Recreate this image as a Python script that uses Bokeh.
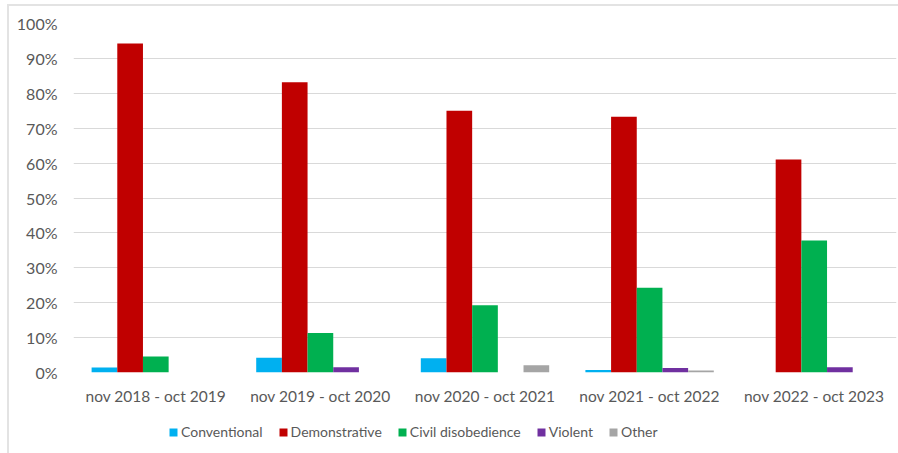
from bokeh.plotting import figure
from bokeh.layouts import column
from bokeh.models import (ColumnDataSource, FactorRange, Legend, LegendItem, FixedTicker,
                          PrintfTickFormatter, Range1d)
from bokeh.transform import dodge
from bokeh.embed import file_html
from bokeh.resources import INLINE

periods = ["nov 2018 - oct 2019", "nov 2019 - oct 2020", "nov 2020 - oct 2021",
           "nov 2021 - oct 2022", "nov 2022 - oct 2023"]
conventional = [1.4, 4.2, 4.1, 0.7, 0.0]
demonstrative = [94.3, 83.2, 75.0, 73.3, 61.0]
civil_disobedience = [4.6, 11.3, 19.3, 24.3, 37.8]
violent = [0.0, 1.5, 0.0, 1.3, 1.5]
other = [0.0, 0.0, 2.1, 0.6, 0.0]
series_names = ["Conventional", "Demonstrative", "Civil disobedience", "Violent", "Other"]
y_ticks = [0, 10, 20, 30, 40, 50, 60, 70, 80, 90, 100]

colors = ["#00B0F0", "#C00000", "#00B050", "#7030A0", "#A5A5A5"]
FONT = "Lato"
TXT = "#595959"

src = ColumnDataSource(dict(period=periods, c0=conventional, c1=demonstrative,
                            c2=civil_disobedience, c3=violent, c4=other))

W = 889
H1, H2 = 409, 38
xr = FactorRange(*periods)
p = figure(x_range=xr, y_range=(0, 100), width=W, height=H1,
           output_backend="svg", toolbar_location=None,
           min_border_left=64, min_border_right=2, min_border_top=17, min_border_bottom=43)
p.outline_line_color = None
p.background_fill_color = "white"

bw = 0.156
for i, name in enumerate(series_names):
    p.vbar(x=dodge("period", (i - 2) * bw, range=xr), top="c%d" % i, width=bw,
           source=src, fill_color=colors[i], line_color=None)

p.xgrid.grid_line_color = None
p.ygrid.grid_line_color = "#d9d9d9"
p.ygrid.ticker = FixedTicker(ticks=y_ticks)

p.yaxis.ticker = FixedTicker(ticks=y_ticks)
p.yaxis.formatter = PrintfTickFormatter(format="%d%%")
for ax in (p.xaxis, p.yaxis):
    ax.axis_line_color = None
    ax.major_tick_line_color = None
    ax.minor_tick_line_color = None
    ax.major_tick_out = 0
    ax.major_tick_in = 0
    ax.major_label_text_font = FONT
    ax.major_label_text_font_size = "15.5px"
    ax.major_label_text_color = TXT
p.yaxis.major_label_text_font_size = "16px"
p.yaxis.major_label_standoff = 16
p.xaxis.major_label_standoff = 14

# legend strip below the chart (its bar renderers sit outside its visible y-range)
lg = figure(width=W, height=H2, x_range=xr, y_range=Range1d(1000, 1001),
            output_backend="svg", toolbar_location=None,
            x_axis_location=None, y_axis_location=None,
            min_border_left=0, min_border_right=0, min_border_top=0, min_border_bottom=0)
lg.grid.visible = False
lg.outline_line_color = None
items = []
for i, name in enumerate(series_names):
    r = lg.vbar(x=dodge("period", (i - 2) * bw, range=xr), top="c%d" % i, width=bw,
                source=src, fill_color=colors[i], line_color=None)
    items.append(LegendItem(label=name, renderers=[r]))
legend = Legend(items=items, orientation="horizontal", location=(95, 13),
                glyph_width=10, glyph_height=10, label_standoff=3, spacing=15,
                padding=0, margin=0, border_line_color=None, background_fill_alpha=0,
                label_text_font=FONT, label_text_font_size="14px", label_text_color=TXT)
lg.add_layout(legend, "center")

layout = column(p, lg, spacing=0)
layout.margin = (4, 0, 0, 7)
layout.styles = {"border-top": "2px solid #e3e3e3", "border-left": "2px solid #e3e3e3"}

open("out.html", "w").write(file_html(layout, INLINE))
